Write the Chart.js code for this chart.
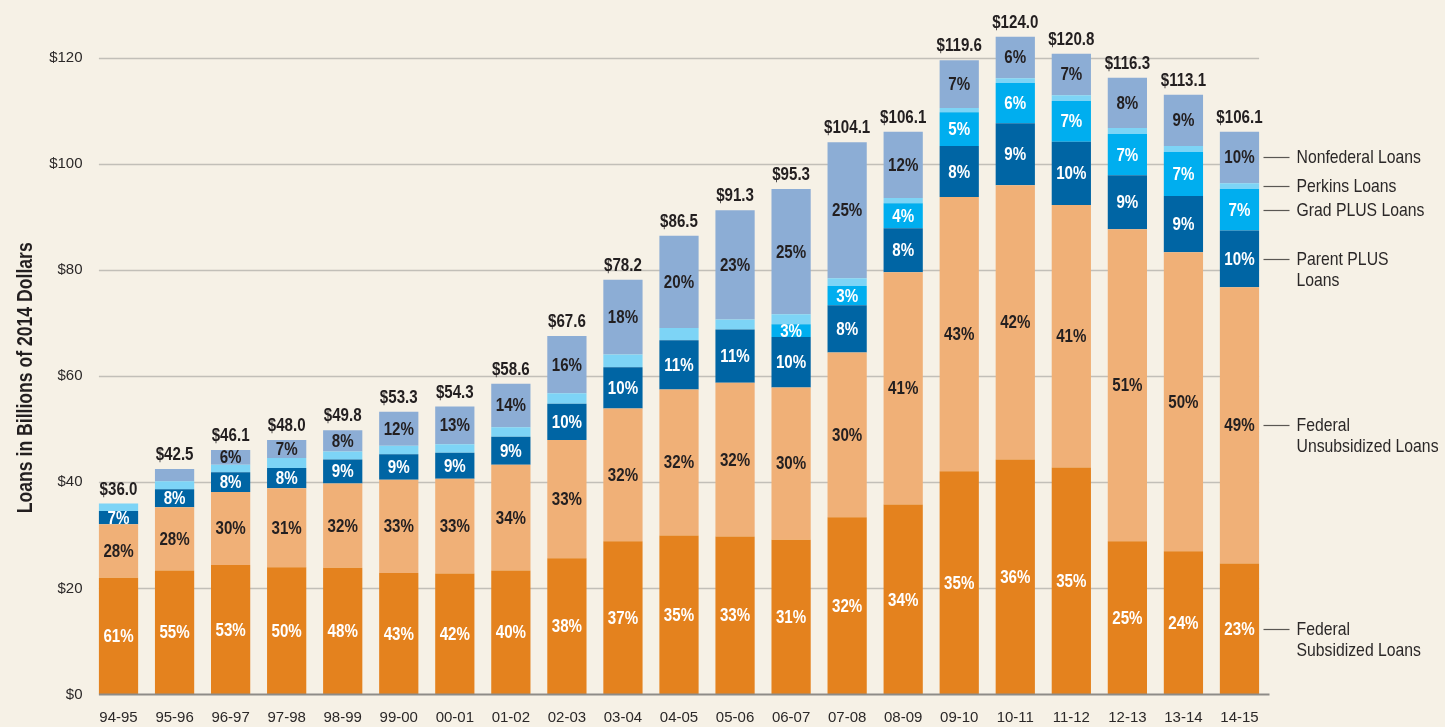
<!DOCTYPE html>
<html><head><meta charset="utf-8">
<script src="https://cdn.jsdelivr.net/npm/chart.js@4.4.1/dist/chart.umd.min.js"></script>
<style>html,body{margin:0;padding:0;background:#F6F1E6;}canvas{display:block;}</style>
</head><body>
<canvas id="c" width="1445" height="727"></canvas>
<script>
const years = ['94-95','95-96','96-97','97-98','98-99','99-00','00-01','01-02','02-03','03-04','04-05','05-06','06-07','07-08','08-09','09-10','10-11','11-12','12-13','13-14','14-15'];
const totals = [36.0,42.5,46.1,48.0,49.8,53.3,54.3,58.6,67.6,78.2,86.5,91.3,95.3,104.1,106.1,119.6,124.0,120.8,116.3,113.1,106.1];
const federalSubsidized   = [22.0,23.4,24.4,24.0,23.9,22.9,22.8,23.4,25.7,28.9,30.0,29.8,29.2,33.4,35.8,42.1,44.3,42.8,28.9,27.0,24.7];
const federalUnsubsidized = [10.1,11.9,13.8,14.9,15.9,17.6,17.9,19.9,22.3,25.0,27.5,29.0,28.7,31.1,43.8,51.7,51.7,49.5,58.8,56.4,52.1];
const parentPlus          = [2.5,3.4,3.7,3.8,4.5,4.8,4.9,5.3,6.8,7.8,9.3,10.0,9.5,8.9,8.3,9.6,11.7,11.9,10.2,10.6,10.7];
const gradPlus            = [0,0,0,0,0,0,0,0,0,0,0,0,2.4,3.6,4.7,6.4,7.6,7.7,7.8,8.3,7.8];
const perkins             = [1.4,1.5,1.4,1.9,1.5,1.6,1.6,1.8,2.0,2.4,2.3,1.9,1.9,1.5,1.0,0.8,0.9,1.1,1.1,1.1,1.1];
const nonfederal          = [0,2.3,2.8,3.4,4.0,6.4,7.1,8.2,10.8,14.1,17.4,20.6,23.6,25.6,12.5,9.0,7.8,7.8,9.5,9.7,9.7];

const pctSub    = [61,55,53,50,48,43,42,40,38,37,35,33,31,32,34,35,36,35,25,24,23];
const pctUnsub  = [28,28,30,31,32,33,33,34,33,32,32,32,30,30,41,43,42,41,51,50,49];
const pctParent = [7,8,8,8,9,9,9,9,10,10,11,11,10,8,8,8,9,10,9,9,10];
const pctGrad   = [null,null,null,null,null,null,null,null,null,null,null,null,3,3,4,5,6,7,7,7,7];
const pctPerkins= [];
const pctNonfed = [null,null,6,7,8,12,13,14,16,18,20,23,25,25,12,7,6,7,8,9,10];

const yTicks = [0,20,40,60,80,100,120];
const yTitle = 'Loans in Billions of 2014 Dollars';

const FONT = "'Liberation Sans',Arial,sans-serif";
const DARK = '#231f20';

const series = [
  {label:'Federal Subsidized Loans', lines:['Federal','Subsidized Loans'], data:federalSubsidized, pct:pctSub, color:'#E4821E', text:'#ffffff'},
  {label:'Federal Unsubsidized Loans', lines:['Federal','Unsubsidized Loans'], data:federalUnsubsidized, pct:pctUnsub, color:'#F0B077', text:DARK},
  {label:'Parent PLUS Loans', lines:['Parent PLUS','Loans'], data:parentPlus, pct:pctParent, color:'#0065A4', text:'#ffffff'},
  {label:'Grad PLUS Loans', lines:['Grad PLUS Loans'], data:gradPlus, pct:pctGrad, color:'#00AEEF', text:'#ffffff'},
  {label:'Perkins Loans', lines:['Perkins Loans'], data:perkins, pct:pctPerkins, color:'#7DD4F6', text:DARK},
  {label:'Nonfederal Loans', lines:['Nonfederal Loans'], data:nonfederal, pct:pctNonfed, color:'#8CADD5', text:DARK}
];

function condensedText(ctx, text, x, y, sx){
  ctx.save(); ctx.translate(x, y); ctx.scale(sx, 1); ctx.fillText(text, 0, 0); ctx.restore();
}

const gridPlugin = {
  id:'gridPlugin',
  beforeDatasetsDraw(chart){
    const ctx = chart.ctx, y = chart.scales.y;
    const m = chart.getDatasetMeta(0).data;
    const x0 = m[0].x - m[0].width/2, x1 = m[m.length-1].x + m[m.length-1].width/2;
    ctx.save();
    ctx.strokeStyle = '#C2BFB8'; ctx.lineWidth = 1.5;
    yTicks.forEach(v => { if (v === 0) return; const py = Math.round(y.getPixelForValue(v)) + 0.5;
      ctx.beginPath(); ctx.moveTo(x0, py); ctx.lineTo(x1, py); ctx.stroke(); });
    ctx.restore();
  },
  afterDatasetsDraw(chart){
    const ctx = chart.ctx, y = chart.scales.y, area = chart.chartArea;
    const m = chart.getDatasetMeta(0).data;
    const x0 = m[0].x - m[0].width/2;
    ctx.save();
    ctx.strokeStyle = '#8E8C88'; ctx.lineWidth = 2;
    const py = y.getPixelForValue(0);
    ctx.beginPath(); ctx.moveTo(x0, py); ctx.lineTo(area.right + 2, py); ctx.stroke();
    // percent labels
    ctx.textAlign = 'center'; ctx.textBaseline = 'middle';
    ctx.font = "bold 18px " + FONT;
    series.forEach((s, di) => {
      const meta = chart.getDatasetMeta(di);
      meta.data.forEach((el, i) => {
        const p = s.pct[i];
        if (p === null || p === undefined) return;
        ctx.fillStyle = s.text;
        condensedText(ctx, p + '%', el.x, (el.y + el.base)/2 + 1, 0.84);
      });
    });
    // totals
    const top = chart.getDatasetMeta(series.length-1).data;
    ctx.fillStyle = DARK; ctx.textBaseline = 'alphabetic';
    top.forEach((el, i) => condensedText(ctx, '$' + totals[i].toFixed(1), el.x, el.y - 9, 0.84));
    // side legend
    const last = years.length - 1;
    ctx.font = "19px " + FONT; ctx.textAlign = 'left'; ctx.textBaseline = 'middle';
    series.forEach((s, di) => {
      const el = chart.getDatasetMeta(di).data[last];
      const cy = Math.round((el.y + el.base)/2) + 0.5;
      const lx = area.right - 4;
      ctx.strokeStyle = '#5a5753'; ctx.lineWidth = 1.2;
      ctx.beginPath(); ctx.moveTo(lx, cy); ctx.lineTo(lx + 26, cy); ctx.stroke();
      ctx.fillStyle = '#2b2828';
      s.lines.forEach((t, k) => condensedText(ctx, t, lx + 33, cy + k*21, 0.83));
    });
    // y axis title (condensed)
    ctx.font = "bold 22px " + FONT; ctx.textAlign = 'center'; ctx.textBaseline = 'middle'; ctx.fillStyle = DARK;
    ctx.save(); ctx.translate(26, (area.top + area.bottom)/2 + 28); ctx.rotate(-Math.PI/2); ctx.scale(0.8, 1);
    ctx.fillText(yTitle, 0, 0); ctx.restore();
    ctx.restore();
  }
};

new Chart(document.getElementById('c'), {
  type:'bar',
  data:{
    labels: years,
    datasets: series.map(s => ({label:s.label, data:s.data, backgroundColor:s.color, borderWidth:0,
      barPercentage:0.7, categoryPercentage:1.0}))
  },
  options:{
    responsive:false, animation:false,
    layout:{padding:{left:0, right:177.5, top:5, bottom:0}},
    plugins:{legend:{display:false}, tooltip:{enabled:false}},
    scales:{
      x:{stacked:true, grid:{display:false, drawTicks:false}, border:{display:false},
        ticks:{font:{family:FONT, size:15}, color:'#2b2828', padding:14, maxRotation:0, autoSkip:false},
        afterFit(s){ s.height = 32.5; s.paddingLeft = 0; s.paddingRight = 0; }},
      y:{stacked:true, min:0, max:130,
        afterBuildTicks(s){ s.ticks = yTicks.map(v => ({value:v})); },
        grid:{display:false, drawTicks:false}, border:{display:false},
        ticks:{font:{family:FONT, size:15}, color:'#2b2828', padding:8, callback:v => '$' + v},
        title:{display:false, text:yTitle},
        afterFit(s){ s.width = 90.5; s.paddingTop = 0; s.paddingBottom = 0; }}
    }
  },
  plugins:[gridPlugin]
});
</script>
</body></html>
